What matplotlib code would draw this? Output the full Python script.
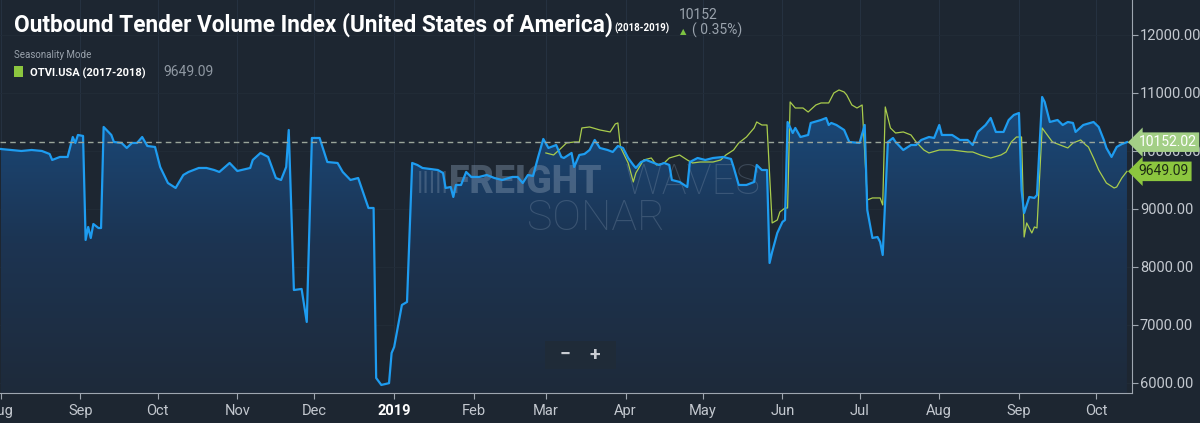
import numpy as np
import pandas as pd
import matplotlib
matplotlib.use("Agg")
import matplotlib.pyplot as plt
import matplotlib.dates as mdates
from matplotlib.colors import LinearSegmentedColormap

# days counted from 2018-08-01
blue_day = [0, 4, 8, 12, 16, 19, 20, 23, 26, 28, 29, 30, 32, 33, 34, 35, 36, 38, 39, 40,
            43, 44, 47, 49, 51, 53, 55, 57, 60, 62, 65, 68, 71, 73, 77, 80, 83, 85, 89, 92,
            97, 98, 101, 104, 107, 109, 111, 112, 114, 117, 119, 121, 124, 127, 131, 133, 136, 139, 141, 143,
            145, 146, 148, 151, 152, 153, 156, 158, 160, 162, 164, 167, 170, 172, 173, 175, 176, 177, 179, 181,
            183, 186, 189, 192, 195, 199, 201, 203, 205, 207, 209, 211, 213, 214, 216, 218, 219, 222, 223, 225,
            227, 229, 231, 233, 236, 238, 240, 242, 244, 246, 247, 249, 251, 254, 256, 258, 260, 261, 264, 267,
            268, 271, 274, 277, 281, 284, 285, 287, 290, 293, 294, 296, 298, 299, 300, 302, 304, 305, 306, 308,
            309, 311, 314, 315, 319, 321, 322, 323, 325, 328, 330, 334, 336, 337, 339, 341, 342, 343, 345, 347,
            348, 351, 354, 356, 358, 361, 363, 365, 366, 370, 373, 376, 378, 380, 383, 385, 387, 390, 392, 394,
            396, 397, 398, 400, 402, 403, 405, 406, 408, 411, 413, 415, 417, 418, 421, 425, 427, 429, 430, 432,
            434, 436, 438]
blue_val = [10034, 10017, 10000, 10017, 10000, 9948, 9845, 9897, 9897, 10241, 10138, 10276, 10259, 8466, 8690, 8500, 8741, 8672, 8672, 10414,
            10276, 10155, 10138, 10052, 10138, 10138, 10241, 10086, 10069, 9724, 9448, 9362, 9586, 9638, 9707, 9707, 9672, 9638, 9793, 9655,
            9707, 9845, 9966, 9897, 9534, 9500, 9724, 10362, 7603, 7621, 7052, 10224, 10224, 9810, 9793, 9638, 9500, 9534, 9276, 9017,
            9017, 6086, 5966, 5997, 6517, 6621, 7345, 7397, 9793, 9759, 9707, 9690, 9672, 9621, 9362, 9379, 9207, 9414, 9414, 9638,
            9552, 9552, 9586, 9534, 9500, 9552, 9552, 9448, 9586, 9569, 9897, 10207, 10052, 10069, 10103, 9897, 9879, 9966, 9724, 9931,
            9948, 10017, 10190, 10052, 10017, 9983, 10086, 10052, 9879, 9759, 9707, 9810, 9845, 9793, 9759, 9793, 9759, 9500, 9466, 9379,
            9810, 9879, 9845, 9879, 9897, 9862, 9724, 9414, 9414, 9466, 9759, 9672, 9672, 8069, 8259, 8586, 8776, 8810, 10500, 10310,
            10397, 10241, 10276, 10483, 10534, 10569, 10448, 10483, 10448, 10362, 10155, 10138, 10448, 8983, 8500, 8517, 8431, 8207, 10155, 10224,
            10155, 10017, 10103, 10103, 10190, 10241, 10224, 10448, 10276, 10276, 10190, 10190, 10103, 10328, 10448, 10569, 10328, 10328, 10534, 10621,
            10655, 9328, 8931, 9207, 9190, 9241, 10931, 10845, 10500, 10534, 10448, 10500, 10483, 10328, 10448, 10500, 10414, 10190, 10052, 9897,
            10069, 10120, 10152.02]

green_day = [212, 215, 218, 220, 223, 225, 226, 229, 233, 237, 239, 240, 241, 244, 246, 247, 250, 253, 255, 258,
             260, 264, 267, 269, 272, 277, 280, 282, 285, 287, 290, 293, 294, 296, 298, 300, 302, 303, 305, 306,
             307, 309, 312, 314, 317, 319, 322, 324, 326, 328, 329, 331, 333, 335, 337, 339, 342, 343, 344, 346,
             348, 351, 354, 356, 359, 361, 365, 370, 376, 378, 381, 385, 389, 391, 393, 395, 397, 398, 399, 401,
             402, 403, 405, 407, 409, 412, 415, 417, 420, 422, 423, 425, 427, 430, 433, 434, 436, 438]
green_val = [9966, 9931, 10052, 10138, 10155, 10155, 10397, 10414, 10362, 10328, 10466, 10483, 10069, 9793, 9466, 9621, 9845, 9879, 9759, 9793,
             9879, 9931, 9845, 9793, 9810, 9810, 9845, 9931, 10017, 10138, 10241, 10397, 10500, 10448, 10448, 8759, 8810, 8948, 9017, 9017,
             10845, 10741, 10741, 10672, 10793, 10828, 10828, 11000, 11052, 11017, 10966, 10793, 10741, 10793, 9155, 9190, 9190, 9069, 10759, 10397,
             10310, 10328, 10276, 10155, 10017, 9966, 10017, 10017, 9983, 9983, 9931, 9879, 9931, 9983, 10155, 10241, 10241, 8517, 8759, 8586,
             8690, 8672, 10397, 10276, 10155, 10103, 10052, 10138, 10190, 10103, 10069, 9879, 9672, 9448, 9362, 9379, 9534, 9649.09]

month_ticks = ["2018-08-01", "2018-09-01", "2018-10-01", "2018-11-01", "2018-12-01", "2019-01-01", "2019-02-01",
               "2019-03-01", "2019-04-01", "2019-05-01", "2019-06-01", "2019-07-01", "2019-08-01", "2019-09-01", "2019-10-01"]
month_labels = ["Aug", "Sep", "Oct", "Nov", "Dec", "2019", "Feb", "Mar", "Apr", "May", "Jun", "Jul", "Aug", "Sep", "Oct"]
y_ticks = [6000, 7000, 8000, 9000, 10000, 11000, 12000]
last_blue = 10152.02
last_green = 9649.09

BG = "#1d2631"
start = pd.Timestamp("2018-08-01")
bx = mdates.date2num(start + pd.to_timedelta(blue_day, unit="D"))
gx = mdates.date2num(start + pd.to_timedelta(green_day, unit="D"))

plt.rcParams["font.family"] = ["Roboto", "DejaVu Sans"]
fig = plt.figure(figsize=(12, 4.23), dpi=100, facecolor=BG)
ax = fig.add_axes([0.0, 0.071, 0.943, 0.929], facecolor=BG)

ymin, ymax = 5828, 12603
x0 = mdates.date2num(start) - 0.3
x1 = mdates.date2num(start) + 439.8
ax.set_xlim(x0, x1)
ax.set_ylim(ymin, ymax)

# faint grid
for t in month_ticks:
    ax.axvline(mdates.date2num(pd.Timestamp(t)), color="#253140", lw=0.8, zorder=0)
for v in y_ticks:
    ax.axhline(v, color="#222c38", lw=0.6, zorder=0)

# gradient fill under the blue line
poly = ax.fill_between(bx, blue_val, ymin, color="none", lw=0)
cmap = LinearSegmentedColormap.from_list("fade", ["#1e2a3a", "#1c3452", "#1a4b7e"])
grad = np.linspace(0, 1, 256).reshape(-1, 1)
im = ax.imshow(grad, extent=[bx[0], bx[-1], ymin, 11000], origin="lower", aspect="auto",
               cmap=cmap, zorder=1)
im.set_clip_path(poly.get_paths()[0], transform=ax.transData)

# watermark
wm = "#8397ae"
ax.text(0.368, 0.535, "|||||", transform=ax.transAxes, fontsize=18, color=wm, alpha=0.35,
        fontweight="bold", ha="left", va="center", zorder=2)
ax.text(0.397, 0.535, "FREIGHT", transform=ax.transAxes, fontsize=27, color=wm, alpha=0.42,
        fontweight="black", ha="left", va="center", zorder=2)
ax.text(0.552, 0.535, "WAVES", transform=ax.transAxes, fontsize=30, color=wm, alpha=0.3,
        fontweight="light", ha="left", va="center", zorder=2)
ax.text(0.527, 0.445, "SONAR", transform=ax.transAxes, fontsize=31, color=wm, alpha=0.3,
        fontweight="light", ha="center", va="center", zorder=2)

ax.plot(gx, green_val, color="#a9cc4c", lw=0.9, zorder=3)
ax.plot(bx, blue_val, color="#1e9cf0", lw=1.6, zorder=4)
ax.axhline(last_blue, color="#9aa59a", lw=1.0, ls=(0, (4, 3)), zorder=5)

# zoom buttons
ax.add_patch(plt.Rectangle((0.482, 0.062), 0.062, 0.07, transform=ax.transAxes, facecolor="#1f2b38",
                           edgecolor="none", zorder=5))
ax.text(0.499, 0.097, "\u2212", transform=ax.transAxes, fontsize=14, color="#c8ccd2", fontweight="bold",
        ha="center", va="center", zorder=6)
ax.text(0.526, 0.097, "+", transform=ax.transAxes, fontsize=14, color="#c8ccd2", fontweight="bold",
        ha="center", va="center", zorder=6)

# axes styling
for s in ["top", "left"]:
    ax.spines[s].set_visible(False)
ax.spines["right"].set_color("#9ea6b0")
ax.spines["bottom"].set_color("#9ea6b0")
ax.yaxis.tick_right()
ax.set_yticks(y_ticks)
ax.set_yticklabels([f"{v}.00" for v in y_ticks])
ax.tick_params(axis="y", colors="#9ea6b0", labelcolor="#c3c8cf", labelsize=10.5, length=4, pad=2)
ax.set_xticks([mdates.date2num(pd.Timestamp(t)) for t in month_ticks])
ax.set_xticklabels(month_labels)
ax.tick_params(axis="x", colors="#9ea6b0", labelcolor="#c3c8cf", labelsize=10.5, length=4, pad=4)
for lab in ax.get_xticklabels():
    if lab.get_text() == "2019":
        lab.set_fontweight("bold")
        lab.set_color("white")

# price tags on the right
ax.annotate(f"{last_blue:.2f}", xy=(1.0, last_blue), xycoords=("axes fraction", "data"),
            xytext=(5, 0), textcoords="offset points", fontsize=10, color="white", va="center", ha="left",
            bbox=dict(boxstyle="larrow,pad=0.2", facecolor="#a3cf86", edgecolor="none"), zorder=8,
            annotation_clip=False)
ax.annotate(f"{last_green:.2f}", xy=(1.0, last_green), xycoords=("axes fraction", "data"),
            xytext=(5, 0), textcoords="offset points", fontsize=10, color="#1d2a14", va="center", ha="left",
            bbox=dict(boxstyle="larrow,pad=0.2", facecolor="#8cc63f", edgecolor="none"), zorder=8,
            annotation_clip=False)

# header texts
fig.text(0.012, 0.925, "Outbound Tender Volume Index (United States of America)", fontsize=16.3,
         fontweight="bold", color="white", ha="left", va="baseline")
fig.text(0.512, 0.925, "(2018-2019)", fontsize=7, fontweight="bold", color="white",
         ha="left", va="baseline")
fig.text(0.566, 0.955, "10152", fontsize=10, color="#9aa3ad", ha="left", va="baseline")
fig.text(0.567, 0.92, "\u25b2", fontsize=6, color="#7cc242", ha="left", va="baseline",
         family=["DejaVu Sans"])
fig.text(0.577, 0.918, "( 0.35%)", fontsize=10, color="#9aa3ad", ha="left", va="baseline")
fig.text(0.012, 0.862, "Seasonality Mode", fontsize=7, color="#9aa3ad", ha="left", va="baseline")
fig.add_artist(plt.Rectangle((0.012, 0.818), 0.0075, 0.025, transform=fig.transFigure,
                             facecolor="#8cc63f", edgecolor="none"))
fig.text(0.025, 0.82, "OTVI.USA (2017-2018)", fontsize=8, fontweight="bold", color="white",
         ha="left", va="baseline")
fig.text(0.136, 0.82, f"{last_green:.2f}", fontsize=10, color="#8f98a2", ha="left", va="baseline")

fig.savefig("out.png", dpi=100, facecolor=BG)
